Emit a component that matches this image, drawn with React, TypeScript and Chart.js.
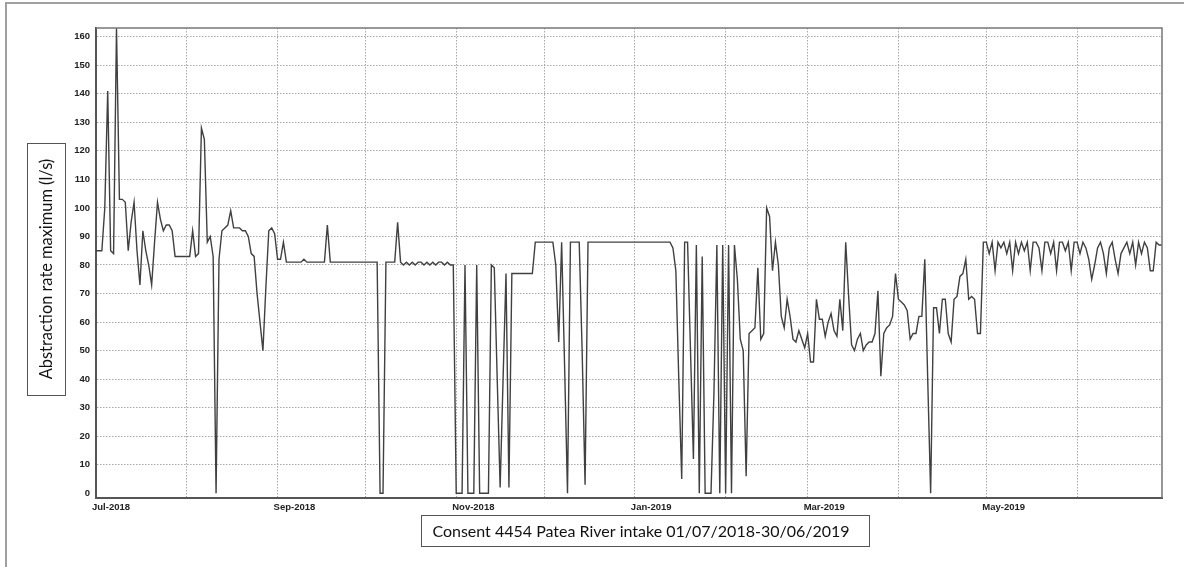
import { useEffect, useRef } from "react";
import { Chart, registerables } from "chart.js";

Chart.register(...registerables);

// Month tick labels and month lengths (Jul-2018 .. Jun-2019)
const monthLabels = [
  "Jul-2018", "Aug-2018", "Sep-2018", "Oct-2018", "Nov-2018", "Dec-2018",
  "Jan-2019", "Feb-2019", "Mar-2019", "Apr-2019", "May-2019", "Jun-2019",
];
const monthLengths = [31, 31, 30, 31, 30, 31, 31, 28, 31, 30, 31, 30];

// Daily abstraction rate maximum (l/s), one array per month
const jul2018 = [85, 85, 85, 100, 141, 85, 84, 163, 103, 103, 102, 85, 95, 102, 85, 73, 92, 85, 80, 73, 88, 102, 96, 92, 94, 94, 92, 83, 83, 83, 83];
const aug2018 = [83, 83, 92, 83, 84, 128, 124, 88, 90, 83, 0, 82, 92, 93, 94, 99, 93, 93, 93, 92, 92, 90, 84, 83, 70, 60, 50, 72, 92, 93, 91];
const sep2018 = [82, 82, 88, 81, 81, 81, 81, 81, 81, 82, 81, 81, 81, 81, 81, 81, 81, 94, 81, 81, 81, 81, 81, 81, 81, 81, 81, 81, 81, 81];
const oct2018 = [81, 81, 81, 81, 81, 0, 0, 81, 81, 81, 81, 95, 81, 80, 81, 80, 81, 80, 81, 81, 80, 81, 80, 81, 80, 81, 81, 80, 81, 80, 80];
const nov2018 = [0, 0, 0, 80, 0, 0, 0, 80, 0, 0, 0, 0, 80, 79, 40, 2, 40, 77, 2, 77, 77, 77, 77, 77, 77, 77, 77, 88, 88, 88];
const dec2018 = [88, 88, 88, 88, 80, 53, 88, 45, 0, 88, 88, 88, 88, 50, 3, 88, 88, 88, 88, 88, 88, 88, 88, 88, 88, 88, 88, 88, 88, 88, 88];
const jan2019 = [88, 88, 88, 88, 88, 88, 88, 88, 88, 88, 88, 88, 88, 86, 78, 40, 5, 88, 88, 50, 12, 87, 0, 83, 0, 0, 0, 35, 87, 0, 87];
const feb2019 = [0, 87, 0, 87, 75, 54, 50, 6, 56, 57, 58, 79, 54, 56, 100, 97, 78, 88, 80, 62, 58, 68, 62, 54, 53, 57, 54, 51];
const mar2019 = [56, 46, 46, 68, 61, 61, 55, 60, 63, 57, 55, 68, 57, 88, 69, 52, 50, 54, 56, 50, 52, 53, 53, 56, 71, 41, 56, 58, 59, 62, 77];
const apr2019 = [68, 67, 66, 64, 54, 56, 56, 62, 62, 82, 40, 0, 65, 65, 56, 68, 68, 56, 53, 68, 69, 76, 77, 82, 68, 69, 68, 56, 56, 88];
const may2019 = [88, 84, 88, 78, 88, 86, 88, 84, 88, 78, 88, 84, 88, 85, 88, 78, 88, 88, 86, 78, 88, 88, 84, 88, 78, 88, 88, 85, 88, 78, 88];
const jun2019 = [88, 84, 88, 86, 82, 75, 80, 86, 88, 84, 77, 86, 88, 82, 77, 84, 86, 88, 84, 88, 80, 88, 84, 88, 86, 78, 78, 88, 87, 87];

const yTickValues = [0, 10, 20, 30, 40, 50, 60, 70, 80, 90, 100, 110, 120, 130, 140, 150, 160];

const yAxisTitle = "Abstraction rate maximum (l/s)";
const xAxisTitle = "Consent 4454 Patea River intake 01/07/2018-30/06/2019";

const tickFont = { family: '"Liberation Sans", Arial, sans-serif', size: 9.5, weight: "bold" as const };
const yTitleFont = '16.4px Lato, "Noto Sans", sans-serif';
const xTitleFont = '16px Lato, "Noto Sans", sans-serif';

const framePlugin = {
  id: "frameAndTitles",
  beforeDraw(chart: any) {
    const c = chart.ctx;
    c.save();
    c.fillStyle = "#ffffff";
    c.fillRect(0, 0, chart.width, chart.height);
    c.restore();
  },
  afterDraw(chart: any) {
    const ctx = chart.ctx;
    const a = chart.chartArea;
    ctx.save();
    // plot frame top / right
    ctx.strokeStyle = "#777";
    ctx.lineWidth = 1.5;
    ctx.beginPath();
    ctx.moveTo(a.left, a.top);
    ctx.lineTo(a.right, a.top);
    ctx.lineTo(a.right, a.bottom);
    ctx.stroke();

    // outer picture frame (top and left edges)
    ctx.strokeStyle = "#a0a0a0";
    ctx.lineWidth = 2;
    ctx.beginPath();
    ctx.moveTo(a.left - 90, chart.height);
    ctx.lineTo(a.left - 90, a.top - 25);
    ctx.lineTo(chart.width, a.top - 25);
    ctx.stroke();

    // y axis title box
    const yl = a.left - 69, yr = a.left - 31, yt = 143, yb = 395;
    ctx.strokeStyle = "#555";
    ctx.lineWidth = 1;
    ctx.strokeRect(yl + 0.5, yt + 0.5, yr - yl, yb - yt);
    ctx.fillStyle = "#111";
    ctx.font = yTitleFont;
    ctx.textAlign = "center";
    ctx.textBaseline = "middle";
    ctx.save();
    ctx.translate((yl + yr) / 2, (yt + yb) / 2);
    ctx.rotate(-Math.PI / 2);
    ctx.fillText(yAxisTitle, 0, 1);
    ctx.restore();

    // x axis title box
    const xl = 421, xr = 869, xt = a.bottom + 17, xb = a.bottom + 48;
    ctx.strokeRect(xl + 0.5, xt + 0.5, xr - xl, xb - xt);
    ctx.font = xTitleFont;
    ctx.fillText(xAxisTitle, (xl + xr) / 2 - 4, (xt + xb) / 2 + 1);
    ctx.restore();
  },
};

export default function App() {
  const ref = useRef<HTMLCanvasElement>(null);

  useEffect(() => {
    const values = [
      ...jul2018, ...aug2018, ...sep2018, ...oct2018, ...nov2018, ...dec2018,
      ...jan2019, ...feb2019, ...mar2019, ...apr2019, ...may2019, ...jun2019,
    ];
    const points = values.map((v, i) => ({ x: i, y: v }));
    const monthStarts: number[] = [];
    let acc = 0;
    for (const len of monthLengths) {
      monthStarts.push(acc);
      acc += len;
    }
    const lastDay = acc - 1;

    const chart = new Chart(ref.current as HTMLCanvasElement, {
      type: "line",
      data: {
        datasets: [
          {
            data: points,
            borderColor: "#404040",
            borderWidth: 1.4,
            pointRadius: 0,
            tension: 0,
            fill: false,
          },
        ],
      },
      options: {
        animation: false,
        responsive: false,
        devicePixelRatio: 1,
        layout: { padding: { left: 56, right: 22, top: 28, bottom: 49 } },
        plugins: { legend: { display: false }, tooltip: { enabled: false } },
        scales: {
          x: {
            type: "linear",
            min: 0,
            max: lastDay,
            afterBuildTicks: (s: any) => {
              s.ticks = monthStarts.map((v) => ({ value: v }));
            },
            afterFit: (s: any) => {
              s.height = 20;
            },
            grid: { color: "#a8a8a8", lineWidth: 1, drawTicks: false },
            border: { display: true, color: "#555", width: 2, dash: [1.5, 1.5] },
            ticks: {
              autoSkip: false,
              maxRotation: 0,
              minRotation: 0,
              align: "start",
              labelOffset: -4,
              padding: 4,
              color: "#222",
              font: tickFont,
              callback: (_v: any, i: number) => (i % 2 === 0 ? monthLabels[i] : ""),
            },
          },
          y: {
            type: "linear",
            min: -1.65,
            max: 163.05,
            afterBuildTicks: (s: any) => {
              s.ticks = yTickValues.map((v) => ({ value: v }));
            },
            afterFit: (s: any) => {
              s.width = 40;
            },
            grid: {
              color: (c: any) => (c.tick && c.tick.value === 0 ? "rgba(0,0,0,0)" : "#a8a8a8"),
              lineWidth: 1,
              drawTicks: false,
            },
            border: { display: true, color: "#555", width: 2, dash: [1.5, 1.5] },
            ticks: {
              padding: 6,
              color: "#222",
              font: tickFont,
              callback: (v: any) => String(v),
            },
          },
        },
      } as any,
      plugins: [framePlugin],
    });
    return () => chart.destroy();
  }, []);

  return (
    <div style={{ position: "absolute", left: 0, top: 0, width: 1184, height: 567, background: "#fff" }}>
      <canvas ref={ref} width={1184} height={567} style={{ display: "block", width: 1184, height: 567 }} />
    </div>
  );
}
